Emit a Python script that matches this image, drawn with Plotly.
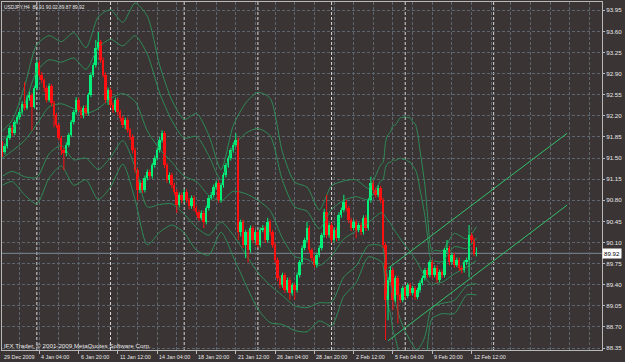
import plotly.graph_objects as go

# ---------------- data ----------------
bars = list(range(1, 195))

closes = [91.60, 91.70, 91.83, 92.00, 91.91, 92.10, 92.18, 92.26, 92.40, 92.33,
          92.50, 92.55, 92.35, 92.66, 93.08, 92.88, 92.79, 92.66, 92.46, 92.70,
          92.41, 92.21, 92.05, 91.83, 91.63, 91.58, 91.72, 91.88, 92.10, 92.26,
          92.46, 92.30, 92.21, 92.33, 92.25, 92.55, 92.88, 93.04, 93.32, 93.42,
          93.13, 92.88, 92.46, 92.63, 92.38, 92.30, 92.46, 92.26, 92.16, 92.05,
          92.13, 91.96, 91.85, 91.63, 91.30, 90.97, 91.09, 90.97, 91.17, 91.27,
          91.20, 91.38, 91.50, 91.63, 91.80, 91.91, 91.38, 91.14, 91.22, 91.05,
          90.94, 90.72, 90.89, 90.80, 90.94, 90.80, 90.70, 90.84, 90.67, 90.60,
          90.51, 90.59, 90.44, 90.67, 90.84, 90.89, 91.02, 91.09, 90.80, 91.05,
          91.22, 91.38, 91.50, 91.63, 91.72, 91.80, 90.27, 90.44, 90.06, 90.27,
          89.97, 90.34, 90.14, 90.27, 90.06, 90.31, 90.34, 90.14, 90.44, 90.27,
          90.06, 89.81, 89.51, 89.39, 89.56, 89.31, 89.48, 89.26, 89.39, 89.31,
          89.56, 89.77, 90.01, 90.14, 90.34, 89.97, 89.84, 89.73, 89.89, 90.01,
          90.22, 90.60, 90.22, 90.39, 90.14, 90.31, 90.17, 90.56, 90.64, 90.77,
          90.67, 90.47, 90.34, 90.44, 90.31, 90.39, 90.27, 90.51, 90.34, 90.80,
          91.09, 90.97, 90.89, 91.00, 90.80, 90.06, 89.15, 89.48, 89.64, 89.15,
          89.51, 89.23, 89.15, 89.34, 89.21, 89.39, 89.26, 89.34, 89.20, 89.31,
          89.43, 89.51, 89.64, 89.56, 89.77, 89.56, 89.68, 89.48, 89.61, 89.56,
          89.97, 90.01, 89.77, 89.89, 89.73, 89.81, 89.68, 89.64, 89.77, 89.81,
          90.22, 90.14, 89.91, 89.92]

opens = [91.75, 91.60, 91.70, 91.83, 92.00, 91.91, 92.10, 92.18, 92.26, 92.40,
         92.33, 92.50, 92.55, 92.35, 92.66, 93.08, 92.88, 92.79, 92.66, 92.46,
         92.70, 92.41, 92.21, 92.05, 91.83, 91.63, 91.58, 91.72, 91.88, 92.10,
         92.26, 92.46, 92.30, 92.21, 92.33, 92.25, 92.55, 92.88, 93.04, 93.32,
         93.42, 93.13, 92.88, 92.46, 92.63, 92.38, 92.30, 92.46, 92.26, 92.16,
         92.05, 92.13, 91.96, 91.85, 91.63, 91.30, 90.97, 91.09, 90.97, 91.17,
         91.27, 91.20, 91.38, 91.50, 91.63, 91.80, 91.91, 91.38, 91.14, 91.22,
         91.05, 90.94, 90.72, 90.89, 90.80, 90.94, 90.80, 90.70, 90.84, 90.67,
         90.60, 90.51, 90.59, 90.44, 90.67, 90.84, 90.89, 91.02, 91.09, 90.80,
         91.05, 91.22, 91.38, 91.50, 91.63, 91.72, 91.80, 90.27, 90.44, 90.06,
         90.27, 89.97, 90.34, 90.14, 90.27, 90.06, 90.31, 90.34, 90.14, 90.44,
         90.27, 90.06, 89.81, 89.51, 89.39, 89.56, 89.31, 89.48, 89.26, 89.39,
         89.31, 89.56, 89.77, 90.01, 90.14, 90.34, 89.97, 89.84, 89.73, 89.89,
         90.01, 90.22, 90.60, 90.22, 90.39, 90.14, 90.31, 90.17, 90.56, 90.64,
         90.77, 90.67, 90.47, 90.34, 90.44, 90.31, 90.39, 90.27, 90.51, 90.34,
         90.80, 91.09, 90.97, 90.89, 91.00, 90.80, 90.06, 89.15, 89.48, 89.64,
         89.15, 89.51, 89.23, 89.15, 89.34, 89.21, 89.39, 89.26, 89.34, 89.20,
         89.31, 89.43, 89.51, 89.64, 89.56, 89.77, 89.56, 89.68, 89.48, 89.61,
         89.56, 89.97, 90.01, 89.77, 89.89, 89.73, 89.81, 89.68, 89.64, 89.77,
         89.81, 90.22, 90.14, 89.91]

highs = [91.78, 91.74, 91.87, 92.04, 92.05, 92.13, 92.22, 92.31, 92.44, 92.76,
         92.54, 92.60, 92.58, 92.70, 93.13, 93.12, 92.93, 92.82, 92.70, 92.74,
         92.73, 92.45, 92.25, 92.08, 91.87, 91.67, 91.76, 91.92, 92.13, 92.30,
         92.51, 92.50, 92.35, 92.37, 92.38, 92.58, 92.92, 93.08, 93.46, 93.59,
         93.46, 93.17, 92.92, 92.67, 92.67, 92.42, 92.50, 92.50, 92.30, 92.20,
         92.17, 92.17, 92.00, 91.89, 91.67, 91.34, 91.13, 91.13, 91.21, 91.31,
         91.31, 91.42, 91.54, 91.67, 91.85, 91.96, 91.95, 91.42, 91.26, 91.26,
         91.09, 90.98, 90.93, 90.93, 90.98, 90.98, 90.84, 90.88, 90.88, 90.71,
         90.64, 90.63, 90.63, 90.71, 90.88, 90.94, 91.06, 91.13, 91.13, 91.09,
         91.26, 91.42, 91.54, 91.67, 91.76, 91.91, 91.84, 90.48, 90.48, 90.31,
         90.31, 90.38, 90.38, 90.31, 90.31, 90.35, 90.39, 90.38, 90.51, 90.48,
         90.31, 90.10, 89.85, 89.55, 89.60, 89.60, 89.52, 89.52, 89.43, 89.43,
         89.60, 89.81, 90.05, 90.18, 90.44, 90.38, 90.01, 89.88, 89.93, 90.05,
         90.26, 90.66, 90.89, 90.43, 90.43, 90.35, 90.35, 90.60, 90.68, 90.89,
         90.81, 90.71, 90.51, 90.48, 90.48, 90.43, 90.43, 90.55, 90.55, 90.84,
         91.19, 91.13, 91.01, 91.05, 91.04, 90.84, 90.10, 89.52, 89.70, 89.68,
         89.55, 89.55, 89.27, 89.38, 89.38, 89.43, 89.43, 89.38, 89.38, 89.35,
         89.47, 89.55, 89.68, 89.68, 89.81, 89.81, 89.72, 89.72, 89.65, 89.65,
         90.01, 90.14, 90.05, 89.93, 89.93, 89.85, 89.85, 89.72, 89.81, 89.85,
         90.39, 90.26, 90.18, 90.02]

lows = [91.52, 91.56, 91.66, 91.80, 91.87, 91.88, 92.06, 92.14, 92.22, 92.29,
        92.30, 92.45, 91.96, 92.32, 92.62, 92.84, 92.74, 92.60, 92.42, 92.43,
        92.36, 92.01, 92.00, 91.79, 91.55, 91.30, 91.53, 91.68, 91.85, 92.06,
        92.22, 92.26, 92.16, 92.16, 92.20, 92.21, 92.51, 92.84, 93.00, 93.28,
        93.08, 92.84, 92.41, 92.38, 92.33, 92.25, 92.26, 92.21, 92.11, 92.00,
        91.98, 91.92, 91.80, 91.58, 91.25, 90.80, 90.92, 90.92, 90.93, 91.13,
        91.15, 91.16, 91.34, 91.46, 91.59, 91.76, 91.33, 91.09, 91.08, 91.00,
        90.89, 90.59, 90.68, 90.75, 90.76, 90.76, 90.65, 90.66, 90.62, 90.55,
        90.46, 90.47, 90.34, 90.40, 90.63, 90.80, 90.85, 90.98, 90.76, 90.76,
        91.01, 91.18, 91.34, 91.46, 91.59, 91.68, 90.14, 90.20, 90.01, 89.84,
        89.77, 89.93, 90.09, 90.10, 90.01, 90.02, 90.27, 90.09, 90.10, 90.22,
        90.01, 89.76, 89.46, 89.34, 89.35, 89.26, 89.27, 89.15, 89.22, 89.15,
        89.27, 89.52, 89.73, 89.97, 90.10, 89.93, 89.79, 89.68, 89.68, 89.85,
        89.97, 90.18, 90.17, 90.18, 90.09, 90.10, 90.12, 90.13, 90.51, 90.60,
        90.62, 90.42, 90.29, 90.30, 90.17, 90.27, 90.22, 90.23, 90.29, 90.30,
        90.76, 90.92, 90.84, 90.85, 90.75, 90.01, 88.48, 88.81, 89.44, 88.98,
        89.11, 88.76, 89.10, 89.11, 89.16, 89.17, 89.21, 89.22, 89.15, 89.16,
        89.27, 89.39, 89.47, 89.51, 89.52, 89.51, 89.52, 89.43, 89.44, 89.51,
        89.52, 89.93, 89.72, 89.73, 89.68, 89.69, 89.63, 89.59, 89.60, 89.73,
        89.52, 90.09, 89.87, 89.87]

# Bollinger band lines (middle, +/-2 and +/-3 deviation), read at sample bars
band_bars = [1, 5, 10, 15, 20, 25, 30, 35, 40, 45, 50, 55, 60, 65, 70, 75, 80, 85,
             90, 95, 100, 105, 110, 115, 120, 125, 130, 135, 140, 145, 150, 155,
             156, 157, 158, 159, 160, 161, 162, 163, 164, 165, 166, 167, 168, 169,
             170, 171, 172, 173, 174, 175, 176, 177, 180, 185, 190, 194]
band_mid = [91.50, 91.62, 91.79, 92.06, 92.35, 92.40, 92.32, 92.24, 92.32, 92.49,
            92.57, 92.44, 91.95, 91.65, 91.43, 91.20, 91.11, 90.88, 90.79, 90.95,
            90.91, 90.80, 90.63, 90.17, 89.87, 89.82, 89.72, 89.88, 90.16, 90.29,
            90.43, 90.59, 90.58, 90.52, 90.47, 90.42, 90.34, 90.28, 90.22, 90.16,
            90.10, 90.05, 90.00, 89.95, 89.89, 89.83, 89.76, 89.68, 89.60, 89.54,
            89.47, 89.42, 89.39, 89.42, 89.44, 89.58, 89.69, 89.80]
band_up2 = [91.80, 91.96, 92.39, 92.94, 93.13, 93.09, 93.16, 92.97, 93.33, 93.47,
            93.36, 93.53, 93.22, 92.58, 92.12, 91.83, 91.86, 91.54, 91.14, 91.68,
            91.91, 91.99, 91.87, 91.13, 90.69, 90.62, 90.33, 90.65, 90.80, 90.86,
            90.81, 91.12, 91.15, 91.35, 91.42, 91.43, 91.47, 91.46, 91.48, 91.50,
            91.48, 91.48, 91.45, 91.43, 91.37, 91.32, 91.20, 90.98, 90.77, 90.54,
            90.22, 89.88, 89.76, 89.79, 89.78, 90.03, 90.00, 90.17]
band_lo2 = [91.20, 91.28, 91.19, 91.18, 91.57, 91.71, 91.47, 91.50, 91.31, 91.51,
            91.79, 91.35, 90.69, 90.73, 90.74, 90.57, 90.35, 90.22, 90.44, 90.22,
            89.91, 89.60, 89.39, 89.22, 89.05, 89.02, 89.10, 89.11, 89.53, 89.71,
            90.05, 90.05, 90.00, 89.69, 89.52, 89.41, 89.21, 89.10, 88.96, 88.82,
            88.72, 88.62, 88.55, 88.47, 88.41, 88.34, 88.32, 88.37, 88.44, 88.54,
            88.72, 88.95, 89.03, 89.05, 89.09, 89.14, 89.38, 89.42]
band_up3 = [91.95, 92.13, 92.69, 93.38, 93.53, 93.43, 93.58, 93.33, 93.84, 93.96,
            93.75, 94.07, 93.85, 93.04, 92.46, 92.14, 92.24, 91.88, 91.31, 92.04,
            92.41, 92.59, 92.49, 91.60, 91.10, 91.02, 90.64, 91.04, 91.12, 91.14,
            91.00, 91.39, 91.43, 91.77, 91.89, 91.93, 92.04, 92.05, 92.11, 92.17,
            92.17, 92.19, 92.17, 92.17, 92.10, 92.07, 91.92, 91.63, 91.35, 91.05,
            90.59, 90.11, 89.94, 89.97, 89.96, 90.25, 90.16, 90.36]
band_lo3 = [91.05, 91.11, 90.89, 90.74, 91.17, 91.37, 91.05, 91.14, 90.81, 91.02,
            91.40, 90.81, 90.06, 90.27, 90.39, 90.26, 89.97, 89.89, 90.27, 89.86,
            89.41, 89.00, 88.77, 88.74, 88.64, 88.62, 88.80, 88.72, 89.21, 89.43,
            89.86, 89.79, 89.72, 89.28, 89.05, 88.91, 88.64, 88.51, 88.33, 88.15,
            88.03, 87.90, 87.83, 87.73, 87.68, 87.60, 87.60, 87.72, 87.86, 88.03,
            88.35, 88.72, 88.85, 88.87, 88.92, 88.92, 89.23, 89.23]

# date labels every 16 bars (first one sits at the left edge)
date_label_bars = [0, 16, 32, 48, 64, 80, 96, 112, 128, 144, 160, 176, 192]
date_labels = ["29 Dec 2009", "4 Jan 04:00", "6 Jan 20:00", "11 Jan 12:00",
               "14 Jan 04:00", "18 Jan 20:00", "21 Jan 12:00", "26 Jan 04:00",
               "28 Jan 20:00", "2 Feb 12:00", "5 Feb 04:00", "9 Feb 20:00",
               "12 Feb 12:00"]
price_ticks = [88.35, 88.70, 89.05, 89.40, 89.75, 90.10, 90.45, 90.80, 91.15,
               91.50, 91.85, 92.20, 92.55, 92.90, 93.25, 93.60, 93.95]
separator_bars = [15, 45, 75, 105, 135, 165, 201]

# trend channel (two parallel lines)
chan_x = [158.0, 230.9]
chan_upper = [89.67, 91.91]
chan_lower = [88.47, 90.72]

last_price = 89.92
title_text = "USDJPY,H4  89.91 90.02 89.87 89.92"
copyright_text = "IFX Trader, \u00a9 2001-2009 MetaQuotes Software Corp."

# ---------------- styling ----------------
BG = "#3a3434"
GREEN = "#00f07a"
RED = "#ff1010"
BAND = "#2e8b57"
GRID = "#5d666e"
FRAME = "#b8b8b8"
TXT = "#e8e8e8"
FONT = "Liberation Sans"
XMIN, XMAX = 0.81, 245.12
YMIN, YMAX = 88.317, 94.088

fig = go.Figure()

# Bollinger band lines (drawn under the candles)
for ys in (band_up3, band_up2, band_mid, band_lo2, band_lo3):
    fig.add_trace(go.Scatter(x=band_bars, y=ys, mode="lines",
                             line=dict(color=BAND, width=1, shape="spline", smoothing=0.7),
                             hoverinfo="skip", showlegend=False))

# candle bodies
for bullish, col in ((True, GREEN), (False, RED)):
    xs, base, hgt = [], [], []
    for b, o, c in zip(bars, opens, closes):
        if (c >= o) == bullish:
            xs.append(b)
            base.append(min(o, c))
            hgt.append(max(abs(c - o), 0.012))
    fig.add_trace(go.Bar(x=xs, y=hgt, base=base, width=0.8, marker_color=col,
                         marker_line_width=0, hoverinfo="skip", showlegend=False))

# wicks
for bullish, col in ((True, GREEN), (False, RED)):
    wx, wy = [], []
    for b, o, h, l, c in zip(bars, opens, highs, lows, closes):
        if (c >= o) == bullish:
            wx += [b, b, None]
            wy += [l, h, None]
    fig.add_trace(go.Scatter(x=wx, y=wy, mode="lines", line=dict(color=col, width=1),
                             hoverinfo="skip", showlegend=False))

# channel lines
for ys in (chan_upper, chan_lower):
    fig.add_trace(go.Scatter(x=chan_x, y=ys, mode="lines",
                             line=dict(color="#33c06a", width=1),
                             hoverinfo="skip", showlegend=False))

# period separators
for sb in separator_bars:
    fig.add_shape(type="line", xref="x", yref="paper", x0=sb, x1=sb, y0=0, y1=1,
                  line=dict(color="#d8d8d8", width=1, dash="3px,2px"), layer="below")

# current price line
fig.add_shape(type="line", xref="paper", yref="y", x0=0, x1=1, y0=last_price, y1=last_price,
              line=dict(color="#7d8a96", width=1), layer="below")

# annotations
ann = []
ann.append(dict(xref="paper", yref="paper", x=0.0, y=0.998, xanchor="left", yanchor="top",
                text=title_text, showarrow=False, font=dict(family=FONT, size=4.8, color=TXT)))
ann.append(dict(xref="paper", yref="paper", x=0.0, y=0.012, xanchor="left", yanchor="middle",
                text=copyright_text, showarrow=False, font=dict(family=FONT, size=6.2, color=TXT)))
for b, t in zip(date_label_bars, date_labels):
    if b < XMIN:
        # label at the very left edge of the chart
        ann.append(dict(xref="paper", yref="paper", x=0.0, y=-0.006, xanchor="left",
                        yanchor="top", text=t, showarrow=False,
                        font=dict(family=FONT, size=5.4, color=TXT)))
    else:
        ann.append(dict(xref="x", yref="paper", x=b, y=-0.006, xanchor="left", yanchor="top",
                        text=t, showarrow=False,
                        font=dict(family=FONT, size=5.4, color=TXT)))
ann.append(dict(xref="paper", yref="y", x=1.0, y=last_price, xanchor="left", yanchor="middle",
                text=str(last_price), showarrow=False, bgcolor="#ffffff", borderpad=1,
                font=dict(family=FONT, size=6.2, color="#000000")))

fig.update_layout(
    width=625, height=362,
    margin=dict(l=2, r=23, t=2, b=12, pad=0),
    paper_bgcolor=BG, plot_bgcolor=BG,
    barmode="overlay", bargap=0,
    showlegend=False,
    annotations=ann,
    xaxis=dict(range=[XMIN, XMAX], tickvals=date_label_bars, ticks="outside", ticklen=3,
               tickcolor=FRAME, showticklabels=False, showgrid=False,
               minor=dict(dtick=8, tick0=0, showgrid=True, gridcolor=GRID,
                          griddash="3px,2px", gridwidth=1, ticks=""),
               showline=True, linecolor=FRAME, linewidth=1, mirror=True, zeroline=False,
               fixedrange=True),
    yaxis=dict(range=[YMIN, YMAX], side="right", tickvals=price_ticks,
               ticktext=["%.2f" % v for v in price_ticks], ticks="outside", ticklen=2,
               tickcolor=FRAME, tickfont=dict(family=FONT, size=6.2, color=TXT),
               showgrid=True, gridcolor=GRID, griddash="3px,2px", gridwidth=1,
               showline=True, linecolor=FRAME, linewidth=1, mirror=True, zeroline=False,
               fixedrange=True),
)

fig.write_html("out.html")
